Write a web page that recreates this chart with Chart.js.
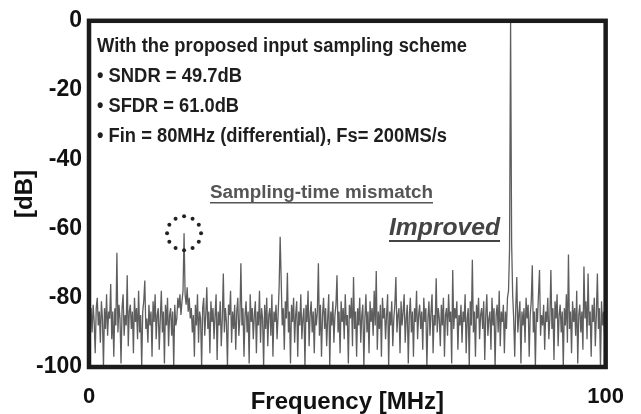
<!DOCTYPE html>
<html>
<head>
<meta charset="utf-8">
<script src="https://cdn.jsdelivr.net/npm/chart.js@4.4.1/dist/chart.umd.min.js"></script>
<style>
  html, body { margin: 0; padding: 0; background: #fff; }
  canvas { display: block; }
</style>
</head>
<body>
<canvas id="fft" width="641" height="414"></canvas>
<script>
// FFT output, 0..100 MHz in 0.2 MHz bins (501 bins)
const binMHz = 0.2;
const spectrumDb = [
  -81,-85,-83,-90,-82,-87,-96,-83,-80,-88,-84,-93,-81,-86,-100,-83,-89,-79,-91,-84,
  -86,-76,-92,-84,-97,-83,-88,-67,-90,-82,-86,-99,-83,-79,-91,-85,-88,-73.5,-94,-84,
  -82,-89,-84,-96,-80,-87,-83,-92,-78,-90,-85,-100,-84,-81,-75,-89,-86,-93,-82,-88,
  -84,-97,-81,-87,-79,-92,-85,-83,-95,-86,-78,-90,-84,-99,-82,-88,-80,-94,-85,-83,
  -91,-84,-100,-82,-88,-86,-80,-83,-79,-85,-81,-78,-61.4,-79,-82,-77,-84,-80,-86,-83,
  -90,-85,-97,-82,-88,-79,-93,-84,-86,-100,-83,-80,-91,-85,-77,-89,-84,-96,-81,-87,
  -83,-92,-85,-79,-98,-84,-88,-81,-94,-86,-73,-90,-83,-87,-100,-82,-85,-78,-93,-84,
  -89,-82,-95,-84,-80,-91,-86,-70,-88,-83,-97,-85,-81,-90,-84,-99,-79,-87,-83,-92,
  -85,-81,-96,-84,-88,-78,-93,-83,-86,-100,-82,-89,-80,-94,-85,-83,-91,-79,-97,-84,
  -87,-82,-92,-85,-77,-62.4,-75,-88,-83,-95,-81,-86,-72.8,-90,-84,-99,-82,-87,-80,-93,
  -85,-81,-97,-84,-88,-79,-92,-86,-83,-100,-82,-87,-78,-94,-85,-81,-90,-84,-96,-83,
  -88,-84,-70,-91,-82,-97,-85,-80,-89,-83,-94,-86,-79,-100,-84,-88,-81,-93,-85,-82,
  -73.5,-90,-84,-96,-81,-87,-83,-92,-79,-88,-85,-99,-82,-86,-80,-94,-74,-89,-84,-97,
  -83,-88,-80,-93,-85,-82,-100,-86,-79,-90,-84,-96,-81,-87,-83,-91,-78,-88,-72.3,-95,
  -84,-89,-82,-97,-80,-86,-83,-92,-85,-79,-100,-84,-88,-81,-94,-86,-82,-74,-90,-85,
  -83,-96,-81,-88,-84,-79,-93,-86,-82,-99,-85,-80,-90,-84,-97,-83,-87,-78,-92,-85,
  -82,-89,-84,-95,-80,-87,-83,-100,-86,-81,-91,-84,-79,-96,-85,-88,-74.4,-90,-83,-86,
  -94,-82,-88,-80,-97,-85,-83,-91,-79,-87,-84,-99,-72,-89,-83,-86,-81,-95,-85,-88,
  -82,-93,-84,-87,-79,-96,-86,-83,-100,-81,-88,-69,-90,-84,-97,-82,-86,-80,-92,-85,
  -83,-89,-81,-98,-85,-79,-91,-86,-84,-95,-80,-88,-83,-100,-85,-82,-90,-78,-94,-84,
  -87,-82,-96,-84,-89,-80,-78,-66,0,-64,-79,-86,-97,-83,-74,-90,-85,-81,-99,-84,
  -88,-83,-93,-80,-86,-82,-97,-85,-81,-70.6,-90,-84,-100,-83,-87,-79,-72,-91,-85,-88,
  -82,-95,-84,-87,-80,-92,-86,-72,-89,-83,-98,-81,-86,-79,-94,-85,-82,-90,-84,-100,
  -83,-88,-79,-93,-67.5,-89,-84,-96,-81,-87,-83,-91,-78,-99,-85,-82,-90,-84,-95,-71,
  -86,-81,-92,-73,-88,-84,-97,-82,-87,-80,-94,-85,-73,-89,-83,-100,-81,-88,-84,-91,
  -83
];
const xTicks = [0, 100];
const yTicks = [0, -20, -40, -60, -80, -100];

// the sampling-time mismatch spur that gets circled
const spurMHz = 18.4;
const spurDb = -61.4;

const FONT = '"Liberation Sans", Arial, sans-serif';
Chart.defaults.font.family = FONT;

// draw text squeezed to a given width (the original uses a narrow bold face)
function fitText(ctx, text, x, y, font, width, color) {
  ctx.save();
  ctx.font = font;
  ctx.fillStyle = color;
  ctx.textAlign = 'left';
  ctx.textBaseline = 'alphabetic';
  const w = ctx.measureText(text).width;
  ctx.translate(x, y);
  ctx.scale(width / w, 1);
  ctx.fillText(text, 0, 0);
  ctx.restore();
}

const decor = {
  id: 'decor',
  afterDraw(chart) {
    const { ctx, chartArea: a, scales } = chart;
    ctx.save();

    // heavy frame
    ctx.strokeStyle = '#1b1b1b';
    ctx.lineWidth = 4.5;
    ctx.strokeRect(a.left, a.top, a.right - a.left, a.bottom - a.top);

    // info text
    const x0 = a.left + 8;
    fitText(ctx, 'With the proposed input sampling scheme', x0, a.top + 31, 'bold 20px ' + FONT, 370, '#1e1e1e');
    fitText(ctx, '\u2022 SNDR = 49.7dB', x0, a.top + 61, 'bold 20px ' + FONT, 145, '#1e1e1e');
    fitText(ctx, '\u2022 SFDR = 61.0dB', x0, a.top + 91, 'bold 20px ' + FONT, 142, '#1e1e1e');
    fitText(ctx, '\u2022 Fin = 80MHz (differential), Fs= 200MS/s', x0, a.top + 121, 'bold 20px ' + FONT, 350, '#1e1e1e');

    // labels
    fitText(ctx, 'Sampling-time mismatch', 210, 198, 'bold 18px ' + FONT, 223, '#555');
    ctx.fillStyle = '#555';
    ctx.fillRect(210, 202, 223, 1.5);
    fitText(ctx, 'Improved', 389, 235, 'italic bold 24px ' + FONT, 111, '#444');
    ctx.fillStyle = '#444';
    ctx.fillRect(389, 240, 111, 2);

    // dotted ring around the spur
    const cx = scales.x.getPixelForValue(spurMHz);
    const cy = scales.y.getPixelForValue(spurDb);
    ctx.fillStyle = '#222';
    for (let k = 0; k < 12; k++) {
      const t = (k / 12) * Math.PI * 2;
      ctx.beginPath();
      ctx.arc(cx + 17 * Math.cos(t), cy + 17 * Math.sin(t), 2, 0, Math.PI * 2);
      ctx.fill();
    }
    ctx.restore();
  }
};

const ctx = document.getElementById('fft');

const fftChart = new Chart(ctx, {
  type: 'line',
  data: {
    datasets: [{
      data: spectrumDb.map((v, i) => ({ x: i * binMHz, y: v })),
      borderColor: '#5e5e5e',
      borderWidth: 1.3,
      pointRadius: 0,
      tension: 0,
      fill: false
    }]
  },
  options: {
    responsive: false,
    animation: false,
    layout: { padding: { top: 20, right: 34, left: 0, bottom: 0 } },
    plugins: {
      legend: { display: false },
      tooltip: { enabled: false }
    },
    scales: {
      x: {
        type: 'linear',
        min: 0,
        max: 100,
        afterBuildTicks: s => { s.ticks = xTicks.map(v => ({ value: v })); },
        afterFit: s => { s.height = 47; },
        grid: { display: false, drawTicks: false },
        border: { display: false },
        ticks: {
          autoSkip: false,
          maxRotation: 0,
          padding: 17,
          color: '#111',
          font: { size: 22, weight: 'bold' }
        },
        title: {
          display: true,
          text: 'Frequency [MHz]',
          color: '#111',
          font: { size: 24, weight: 'bold', lineHeight: 1 },
          padding: { top: 0, bottom: 0 }
        }
      },
      y: {
        min: -100,
        max: 0,
        afterBuildTicks: s => { s.ticks = yTicks.map(v => ({ value: v })); },
        afterFit: s => { s.width = 89; },
        grid: { display: false, drawTicks: false },
        border: { display: false },
        ticks: {
          padding: 7,
          color: '#111',
          font: { size: 23, weight: 'bold' }
        },
        title: {
          display: true,
          text: '[dB]',
          color: '#111',
          font: { size: 24, weight: 'bold', lineHeight: 1 },
          padding: { top: 13, bottom: 0 }
        }
      }
    }
  },
  plugins: [decor]
});
</script>
</body>
</html>
